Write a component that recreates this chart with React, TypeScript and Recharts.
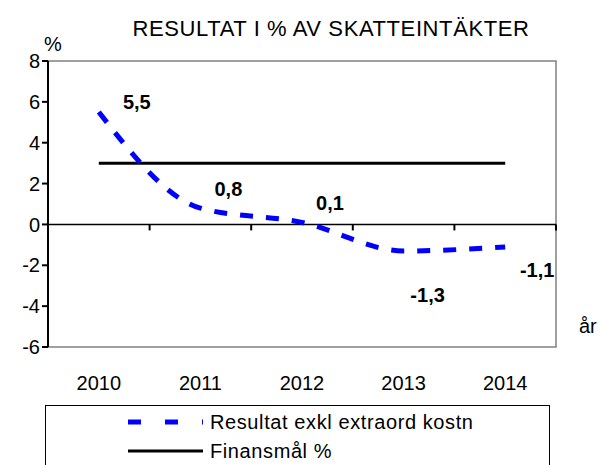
import React from 'react';
import { ComposedChart, Line, XAxis, YAxis, ReferenceLine, ReferenceArea, LabelList } from 'recharts';

const years = ['2010', '2011', '2012', '2013', '2014'];
const resultat = [5.5, 0.8, 0.1, -1.3, -1.1];
const finansmal = [3, 3, 3, 3, 3];
const labelTexts = ['5,5', '0,8', '0,1', '-1,3', '-1,1'];
const yTicks = [-6, -4, -2, 0, 2, 4, 6, 8];

const data = years.map((y, i) => ({ year: y, res: resultat[i], fin: finansmal[i] }));

const FONT = '"Liberation Sans", Arial, sans-serif';

// label offsets relative to each point
const labelOffsets = [
  [38, -10],
  [28, -19],
  [28, -19],
  [24, 44],
  [32, 23],
];

const PointLabel = (props: any) => {
  const { x, y, index } = props;
  const [dx, dy] = labelOffsets[index];
  return (
    <text x={x + dx} y={y + dy} textAnchor="middle" dominantBaseline="central" fontSize={20} fontWeight="bold" fill="#000" fontFamily={FONT}>
      {labelTexts[index]}
    </text>
  );
};

// zero line with small ticks at category boundaries
const ZeroAxis = (props: any) => {
  const { x1, x2, y1 } = props;
  const step = (x2 - x1) / years.length;
  const ticks = [];
  for (let i = 1; i <= years.length; i++) {
    const tx = x1 + step * i;
    ticks.push(<line key={i} x1={tx} x2={tx} y1={y1} y2={y1 + 6} stroke="#000" strokeWidth={2} />);
  }
  return (
    <g>
      <line x1={x1} x2={x2} y1={y1} y2={y1} stroke="#000" strokeWidth={1.5} />
      {ticks}
    </g>
  );
};

const App: React.FC = () => {
  return (
    <div style={{ position: 'absolute', left: 0, top: 0, width: 600, height: 465, background: '#fff', fontFamily: FONT, overflow: 'hidden' }}>
      <div style={{ position: 'absolute', left: 0, top: 16, width: 662, textAlign: 'center', fontSize: 22, letterSpacing: 0.6, color: '#000' }}>
        RESULTAT I % AV SKATTEINTÄKTER
      </div>
      <div style={{ position: 'absolute', left: 44, top: 33, fontSize: 20, color: '#000' }}>%</div>
      <div style={{ position: 'absolute', left: 579, top: 315, fontSize: 20, color: '#000' }}>år</div>
      <ComposedChart width={600} height={465} data={data} margin={{ top: 61, right: 44, left: 0, bottom: 0 }}>
        <ReferenceArea y1={-6} y2={8} fill="none" stroke="#808080" strokeWidth={1.5} ifOverflow="extendDomain" />
        <XAxis
          dataKey="year"
          scale="band"
          height={118}
          axisLine={false}
          tickLine={false}
          tickMargin={23}
          tick={{ fontSize: 20, fill: '#000', fontFamily: FONT }}
          interval={0}
        />
        <YAxis
          domain={[-6, 8]}
          ticks={yTicks}
          width={48}
          axisLine={{ stroke: '#000', strokeWidth: 2 }}
          tickLine={{ stroke: '#000', strokeWidth: 2 }}
          tickSize={6}
          tick={{ fontSize: 20, fill: '#000', fontFamily: FONT }}
          interval={0}
        />
        <ReferenceLine y={0} shape={<ZeroAxis />} />
        <Line dataKey="fin" stroke="#000" strokeWidth={3} dot={false} isAnimationActive={false} />
        <Line type="monotone" dataKey="res" stroke="#0000FF" strokeWidth={5} strokeDasharray="13 13" dot={false} isAnimationActive={false}>
          <LabelList dataKey="res" content={<PointLabel />} />
        </Line>
      </ComposedChart>
      <div style={{ position: 'absolute', left: 45, top: 405, width: 505, height: 70, border: '1.5px solid #000', boxSizing: 'border-box', fontSize: 20, letterSpacing: 0.6, color: '#000' }}>
        <div style={{ position: 'absolute', left: 82, top: 4, display: 'flex', alignItems: 'center' }}>
          <svg width={75} height={24}>
            <line x1={0} x2={75} y1={12} y2={12} stroke="#0000FF" strokeWidth={5} strokeDasharray="13 24" />
          </svg>
          <span style={{ marginLeft: 7 }}>Resultat exkl extraord kostn</span>
        </div>
        <div style={{ position: 'absolute', left: 82, top: 33, display: 'flex', alignItems: 'center' }}>
          <svg width={75} height={24}>
            <line x1={0} x2={75} y1={12} y2={12} stroke="#000" strokeWidth={3} />
          </svg>
          <span style={{ marginLeft: 7 }}>Finansmål %</span>
        </div>
      </div>
    </div>
  );
};

export default App;
